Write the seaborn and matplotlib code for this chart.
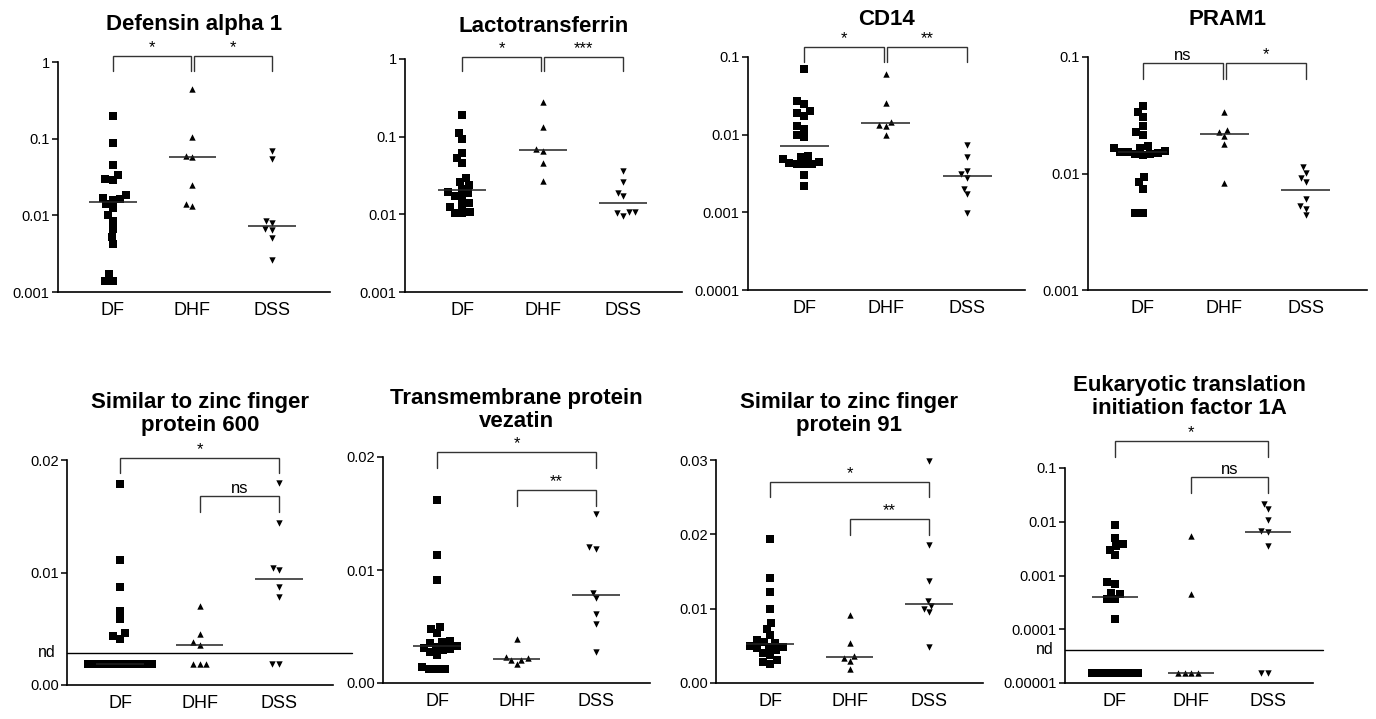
import warnings
import numpy as np
import pandas as pd
import matplotlib
matplotlib.use("Agg")
import matplotlib.pyplot as plt
import matplotlib.transforms as mtransforms
from matplotlib.ticker import FixedLocator, FixedFormatter, NullLocator
import seaborn as sns

warnings.filterwarnings("ignore")

# ---------------------------------------------------------------- data
groups = ["DF", "DHF", "DSS"]
ND = None  # not detected

defensin_DF = [0.20, 0.089, 0.046, 0.034, 0.0295, 0.029, 0.0186, 0.017, 0.0163, 0.016,
               0.014, 0.0126, 0.010, 0.0085, 0.0066, 0.0052, 0.0042, 0.0017, 0.0014, 0.0014]
defensin_DHF = [0.45, 0.105, 0.060, 0.058, 0.025, 0.0142, 0.0132]
defensin_DSS = [0.069, 0.054, 0.0084, 0.0079, 0.0066, 0.0064, 0.0050, 0.0026]

lacto_DF = [0.191, 0.113, 0.0935, 0.061, 0.0526, 0.0454, 0.029, 0.026, 0.0236, 0.0212,
            0.0195, 0.019, 0.0172, 0.0168, 0.0138, 0.013, 0.0124, 0.0106, 0.0105, 0.0105]
lacto_DHF = [0.276, 0.132, 0.0689, 0.066, 0.046, 0.027]
lacto_DSS = [0.0365, 0.026, 0.019, 0.0172, 0.0107, 0.0107, 0.0105, 0.0096]

cd14_DF = [0.070, 0.0274, 0.025, 0.020, 0.019, 0.0175, 0.0128, 0.0118, 0.010, 0.0092,
           0.0053, 0.0051, 0.0048, 0.0044, 0.0043, 0.0042, 0.0042, 0.0042, 0.0030, 0.0022]
cd14_DHF = [0.060, 0.0255, 0.0145, 0.0135, 0.013, 0.010]
cd14_DSS = [0.0073, 0.0051, 0.0034, 0.0031, 0.0028, 0.0020, 0.0017, 0.00098]

pram1_DF = [0.0377, 0.034, 0.0305, 0.0254, 0.0225, 0.0212, 0.0171, 0.0166, 0.0165, 0.0156,
            0.0153, 0.0152, 0.0150, 0.0148, 0.0146, 0.0144, 0.0094, 0.0084, 0.0074, 0.0046, 0.0046]
pram1_DHF = [0.034, 0.0235, 0.0225, 0.021, 0.018, 0.0083]
pram1_DSS = [0.0113, 0.0101, 0.0091, 0.0084, 0.0060, 0.0053, 0.0050, 0.0044]

znf600_DF = [0.0179, 0.0111, 0.0087, 0.0066, 0.0059, 0.0046, 0.0044, 0.0041,
             ND, ND, ND, ND, ND, ND, ND, ND, ND, ND, ND, ND]
znf600_DHF = [0.0070, 0.0045, 0.0038, 0.0036, ND, ND, ND]
znf600_DSS = [0.0180, 0.0144, 0.0104, 0.0102, 0.0087, 0.0078, ND, ND]

vezatin_DF = [0.0162, 0.0113, 0.0091, 0.0050, 0.0048, 0.0044, 0.0037, 0.0036, 0.0035, 0.0033,
              0.0032, 0.0031, 0.0030, 0.0029, 0.0027, 0.0025, 0.0014, 0.0012, 0.0012, 0.0012]
vezatin_DHF = [0.0039, 0.0023, 0.0022, 0.00205, 0.0020, 0.00165]
vezatin_DSS = [0.0150, 0.0120, 0.0119, 0.0080, 0.0075, 0.0061, 0.0052, 0.0027]

znf91_DF = [0.0194, 0.0141, 0.0123, 0.0099, 0.0081, 0.0073, 0.0064, 0.0058, 0.0055, 0.0054,
            0.0050, 0.0049, 0.0048, 0.0047, 0.0044, 0.0040, 0.0038, 0.0031, 0.0028, 0.0026]
znf91_DHF = [0.0091, 0.0054, 0.0036, 0.0034, 0.0030, 0.0019]
znf91_DSS = [0.0298, 0.0186, 0.0137, 0.0110, 0.0103, 0.0100, 0.0095, 0.0048]

eif1a_DF = [0.0088, 0.0050, 0.0038, 0.0036, 0.0030, 0.0024, 0.00076, 0.00070, 0.00047, 0.00045,
            0.00036, 0.00036, 0.000154, ND, ND, ND, ND, ND, ND, ND]
eif1a_DHF = [0.0054, 0.00045, ND, ND, ND, ND]
eif1a_DSS = [0.0214, 0.0173, 0.011, 0.0066, 0.0064, 0.0035, ND, ND]

titles = ["Defensin alpha 1", "Lactotransferrin", "CD14", "PRAM1",
          "Similar to zinc finger\nprotein 600", "Transmembrane protein\nvezatin",
          "Similar to zinc finger\nprotein 91", "Eukaryotic translation\ninitiation factor 1A"]

log_ticks_1 = [0.001, 0.01, 0.1, 1]
log_labels_1 = ["0.001", "0.01", "0.1", "1"]
log_ticks_2 = [0.0001, 0.001, 0.01, 0.1]
log_labels_2 = ["0.0001", "0.001", "0.01", "0.1"]
log_ticks_3 = [0.001, 0.01, 0.1]
log_labels_3 = ["0.001", "0.01", "0.1"]
lin_ticks_2 = [0.0, 0.01, 0.02]
lin_labels_2 = ["0.00", "0.01", "0.02"]
lin_ticks_3 = [0.0, 0.01, 0.02, 0.03]
lin_labels_3 = ["0.00", "0.01", "0.02", "0.03"]
log_ticks_5 = [0.00001, 0.0001, 0.001, 0.01, 0.1]
log_labels_5 = ["0.00001", "0.0001", "0.001", "0.01", "0.1"]

# ---------------------------------------------------------------- layout
W, H, DPI = 1376, 719, 100
markers = {"DF": ("s", 5.2), "DHF": ("^", 4.6), "DSS": ("v", 4.6)}

panels = [
    dict(data=(defensin_DF, defensin_DHF, defensin_DSS), log=True, ylim=(0.001, 1),
         ticks=log_ticks_1, labels=log_labels_1, box=(58, 62, 330, 292), xlim=(-0.69, 2.73), pad=23,
         br=[(0, 0.98, "*", 1.026, 0.961), (1.02, 2, "*", 1.026, 0.961)]),
    dict(data=(lacto_DF, lacto_DHF, lacto_DSS), log=True, ylim=(0.001, 1),
         ticks=log_ticks_1, labels=log_labels_1, box=(405, 59, 682, 292), xlim=(-0.71, 2.73), pad=19.5,
         br=[(0, 0.98, "*", 1.009, 0.948), (1.02, 2, "***", 1.009, 0.948)]),
    dict(data=(cd14_DF, cd14_DHF, cd14_DSS), log=True, ylim=(0.0001, 0.1),
         ticks=log_ticks_2, labels=log_labels_2, box=(748, 57, 1025, 290), xlim=(-0.69, 2.71), pad=23,
         br=[(0, 0.98, "*", 1.043, 0.979), (1.02, 2, "**", 1.043, 0.979)]),
    dict(data=(pram1_DF, pram1_DHF, pram1_DSS), log=True, ylim=(0.001, 0.1),
         ticks=log_ticks_3, labels=log_labels_3, box=(1088, 57, 1367, 290), xlim=(-0.67, 2.75), pad=23,
         br=[(0, 0.98, "ns", 0.974, 0.906), (1.02, 2, "*", 0.974, 0.906)]),
    dict(data=(znf600_DF, znf600_DHF, znf600_DSS), log=False, ylim=(0.0, 0.02),
         ticks=lin_ticks_2, labels=lin_labels_2, box=(67, 460, 333, 685), xlim=(-0.67, 2.68), pad=21,
         br=[(0, 2, "*", 1.009, 0.942), (1, 2, "ns", 0.84, 0.769)],
         nd_point=0.0019, nd_line=0.00285, nd_ext=1.07),
    dict(data=(vezatin_DF, vezatin_DHF, vezatin_DSS), log=False, ylim=(0.0, 0.02),
         ticks=lin_ticks_2, labels=lin_labels_2, box=(383, 457, 650, 683), xlim=(-0.68, 2.68), pad=21.5,
         br=[(0, 2, "*", 1.022, 0.951), (1, 2, "**", 0.854, 0.783)]),
    dict(data=(znf91_DF, znf91_DHF, znf91_DSS), log=False, ylim=(0.0, 0.03),
         ticks=lin_ticks_3, labels=lin_labels_3, box=(716, 460, 983, 683), xlim=(-0.68, 2.68), pad=21,
         br=[(0, 2, "*", 0.901, 0.834), (1, 2, "**", 0.735, 0.664)]),
    dict(data=(eif1a_DF, eif1a_DHF, eif1a_DSS), log=True, ylim=(0.00001, 0.1),
         ticks=log_ticks_5, labels=log_labels_5, box=(1065, 468, 1313, 683), xlim=(-0.65, 2.59), pad=39,
         br=[(0, 2, "*", 1.126, 1.051), (1, 2, "ns", 0.958, 0.884)],
         nd_point=0.0000155, nd_line=0.000042, nd_ext=1.04),
]

# ---------------------------------------------------------------- style
sns.set_style("ticks")
plt.rcParams["font.family"] = ["Liberation Sans", "DejaVu Sans"]
plt.rcParams["axes.linewidth"] = 1.2
plt.rcParams["text.color"] = "black"
plt.rcParams["axes.titlecolor"] = "black"
plt.rcParams["axes.labelcolor"] = "black"
plt.rcParams["xtick.color"] = "black"
plt.rcParams["ytick.color"] = "black"

fig = plt.figure(figsize=(W / DPI, H / DPI), dpi=DPI)


def px_rect(x0, y0, x1, y1):
    return [x0 / W, 1 - y1 / H, (x1 - x0) / W, (y1 - y0) / H]


for title, spec in zip(titles, panels):
    ax = fig.add_axes(px_rect(*spec["box"]))
    if spec["log"]:
        ax.set_yscale("log")
    nd_point = spec.get("nd_point")

    for k, (g, vals) in enumerate(zip(groups, spec["data"])):
        plotted = [nd_point if v is None else v for v in vals]
        df = pd.DataFrame({"group": g, "value": plotted})
        m, sz = markers[g]
        sns.swarmplot(data=df, x="group", y="value", order=groups, marker=m, size=sz,
                      color="black", linewidth=0, warn_thresh=1.0, ax=ax, zorder=4,
                      clip_on=False)
        med = float(np.median(plotted))
        ax.hlines(med, k - 0.3, k + 0.3, color="#222222", lw=1.1, zorder=5)

    ax.set_ylim(*spec["ylim"])
    ax.set_xlim(*spec["xlim"])
    ax.set_xlabel("")
    ax.set_ylabel("")
    sns.despine(ax=ax)
    for s in ("left", "bottom"):
        ax.spines[s].set_color("black")
        ax.spines[s].set_linewidth(1.2)

    ax.yaxis.set_major_locator(FixedLocator(spec["ticks"]))
    ax.yaxis.set_major_formatter(FixedFormatter(spec["labels"]))
    ax.yaxis.set_minor_locator(NullLocator())
    ax.tick_params(axis="y", which="major", length=4, width=1.1, pad=2,
                   labelsize=10.5, color="black", labelcolor="black")
    ax.set_xticks(range(len(groups)))
    ax.set_xticklabels(groups)
    ax.tick_params(axis="x", length=0, pad=7, labelsize=13, labelcolor="black")

    ax.set_title(title, fontsize=16, fontweight="bold", pad=spec["pad"],
                 linespacing=1.12, color="black")

    # significance brackets
    trans = mtransforms.blended_transform_factory(ax.transData, ax.transAxes)
    for x0, x1, lab, top, leg in spec["br"]:
        ax.plot([x0, x0, x1, x1], [leg, top, top, leg], transform=trans, clip_on=False,
                color="#333333", lw=1.0, solid_joinstyle="miter")
        ax.annotate(lab, xy=((x0 + x1) / 2, top), xycoords=trans, xytext=(0, 2.5),
                    textcoords="offset points", ha="center", va="baseline",
                    fontsize=12, color="black", annotation_clip=False)

    # "not detected" separator
    if nd_point is not None:
        ax.axhline(spec["nd_line"], xmin=0, xmax=spec["nd_ext"], color="black",
                   lw=1.0, clip_on=False)
        tr2 = mtransforms.blended_transform_factory(ax.transAxes, ax.transData)
        ax.annotate("nd", xy=(0, spec["nd_line"]), xycoords=tr2, xytext=(-8, 0),
                    textcoords="offset points", ha="right", va="center",
                    fontsize=11.5, color="black", annotation_clip=False)

fig.savefig("out.png", dpi=DPI)
